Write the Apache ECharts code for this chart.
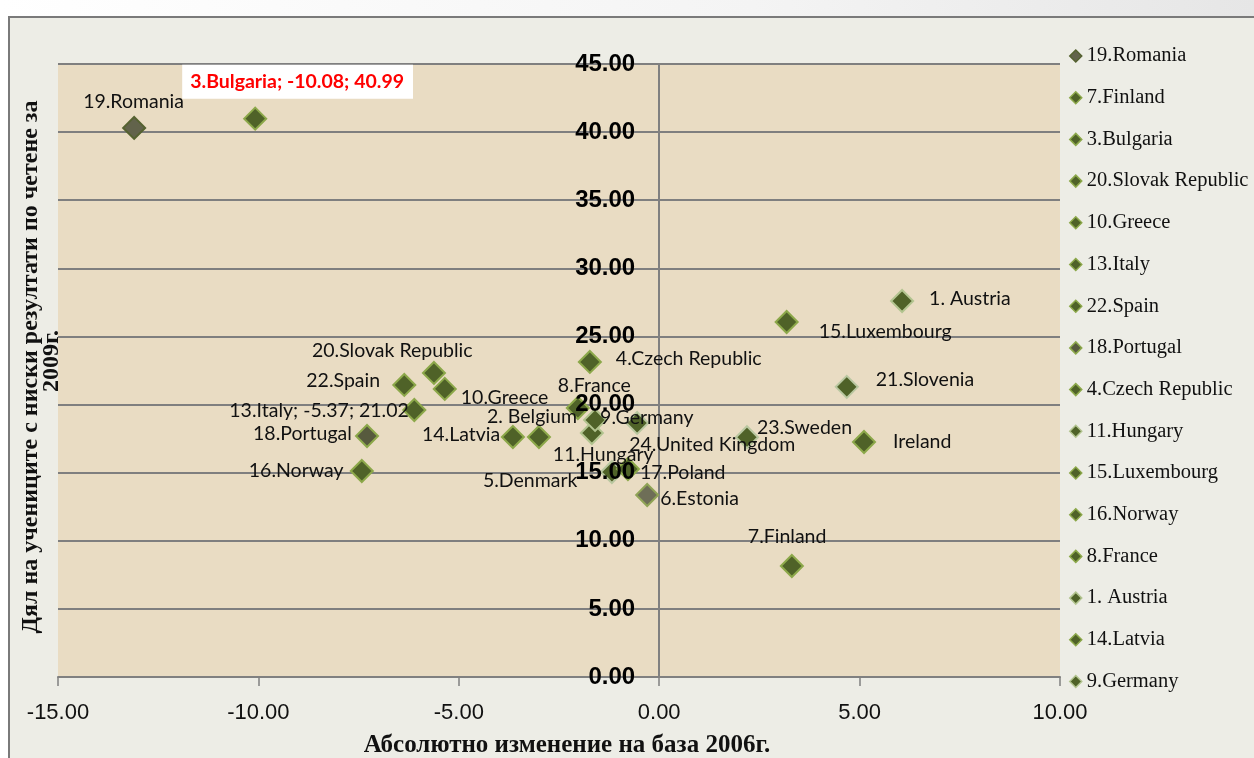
<!DOCTYPE html>
<html><head><meta charset="utf-8">
<script src="https://cdn.jsdelivr.net/npm/echarts@6/dist/echarts.min.js"></script>
<style>html,body{margin:0;padding:0;background:#fff}#c{width:1254px;height:758px}</style>
</head><body><div id="c"></div>
<script>
// ---- data ----
const countries = ['19.Romania','7.Finland','3.Bulgaria','20.Slovak Republic','10.Greece','13.Italy','22.Spain','18.Portugal','4.Czech Republic','11.Hungary','15.Luxembourg','16.Norway','8.France','1. Austria','14.Latvia','9.Germany','2. Belgium','5.Denmark','6.Estonia','17.Poland','21.Slovenia','23.Sweden','24.United Kingdom','Ireland'];
const changeSince2006 = [-13.10, 3.31, -10.08, -5.62, -5.35, -6.11, -6.36, -7.29, -1.73, -1.68, 3.18, -7.42, -2.03, 6.06, -3.65, -1.60, -3.00, -1.18, -0.30, -0.78, 4.68, 2.19, -0.55, 5.11];
const lowShare2009 = [40.31, 8.15, 40.99, 22.32, 21.15, 19.60, 21.44, 17.69, 23.13, 17.91, 26.06, 15.12, 19.75, 27.60, 17.62, 18.87, 17.62, 15.05, 13.36, 15.27, 21.30, 17.60, 18.65, 17.25];
const pointLabels = ['19.Romania','7.Finland','3.Bulgaria; -10.08; 40.99','20.Slovak Republic','10.Greece','13.Italy; -5.37; 21.02','22.Spain','18.Portugal','4.Czech Republic','11.Hungary','15.Luxembourg','16.Norway','8.France','1. Austria','14.Latvia','9.Germany','2. Belgium','5.Denmark','6.Estonia','17.Poland','21.Slovenia','23.Sweden','24.United Kingdom','Ireland'];
const legendCount = 16;
const xTickValues = [-15, -10, -5, 0, 5, 10];
const yTickValues = [0, 5, 10, 15, 20, 25, 30, 35, 40, 45];
const xTitle = 'Абсолютно изменение на база 2006г.';
const yTitle1 = 'Дял на учениците с ниски резултати по четене за';
const yTitle2 = '2009г.';

// ---- styling (label placement offsets relative to marker, marker colours) ----
const labelOffset = {
  '19.Romania':[-51,-26], '7.Finland':[-44,-29], '3.Bulgaria':[-73,-37], '20.Slovak Republic':[-122,-22],
  '10.Greece':[16,9], '13.Italy':[-185,1], '22.Spain':[-98,-4], '18.Portugal':[-114,-2],
  '4.Czech Republic':[26,-3], '11.Hungary':[-39,22], '15.Luxembourg':[32,10], '16.Norway':[-113,0],
  '8.France':[-20,-22], '1. Austria':[27,-2], '14.Latvia':[-91,-2], '9.Germany':[5,-2],
  '2. Belgium':[-52,-20], '5.Denmark':[-129,9], '6.Estonia':[13,4], '17.Poland':[12,4],
  '21.Slovenia':[29,-7], '23.Sweden':[10,-10], '24.United Kingdom':[-8,22], 'Ireland':[29,0]
};
const markerFill = {'19.Romania':'#62634B','18.Portugal':'#575A3E','6.Estonia':'#6E6E57'};
const markerBorder = {'19.Romania':'#556230','21.Slovenia':'#B9C7A0','23.Sweden':'#B9C7A0','1. Austria':'#B2C48F','9.Germany':'#B2C48F','24.United Kingdom':'#B9C7A0','5.Denmark':'#B9C7A0','11.Hungary':'#B2C48F','6.Estonia':'#8FA355'};

const GRID_LEFT = 58, GRID_RIGHT = 194;
const LABEL_FONT = 'Lato, "Open Sans", sans-serif';
const series = countries.map((name, i) => {
  const isBg = name === '3.Bulgaria';
  const off = labelOffset[name] || [14, 0];
  return {
    name: name,
    type: 'scatter',
    symbol: 'diamond',
    symbolSize: 22,
    z: 3,
    itemStyle: {
      color: markerFill[name] || '#4F6228',
      borderColor: markerBorder[name] || '#8CA84A',
      borderWidth: 2,
      opacity: 1
    },
    label: {
      show: true,
      formatter: pointLabels[i],
      position: 'inside',
      align: 'left',
      verticalAlign: 'middle',
      offset: off,
      color: isBg ? '#FF0000' : '#111',
      fontFamily: LABEL_FONT,
      fontSize: 19.5,
      fontWeight: isBg ? 'bold' : 'normal',
      backgroundColor: isBg ? '#FFFFFF' : 'transparent',
      padding: isBg ? [7, 9, 7, 8] : 0
    },
    emphasis: {disabled: true},
    data: [[changeSince2006[i], lowShare2009[i]]]
  };
});

const chart = echarts.init(document.getElementById('c'), null, {renderer: 'canvas'});
const xMin = xTickValues[0], xMax = xTickValues[xTickValues.length-1];
const yMin = yTickValues[0], yMax = yTickValues[yTickValues.length-1];
const plotW = 1254 - GRID_LEFT - GRID_RIGHT;
const yOffset = -plotW * (0 - xMin) / (xMax - xMin);
const yLabelStyle = {formatter: v => v.toFixed(2), color: '#000', fontFamily: '"Liberation Sans", sans-serif', fontWeight: 'bold', fontSize: 24, margin: 24, padding: [6, 0, 0, 0], showMinLabel: true, showMaxLabel: true, hideOverlap: false};
chart.setOption({
  animation: false,
  backgroundColor: 'transparent',
  graphic: [
    {type:'rect', z:-20, shape:{x:0,y:0,width:1254,height:17}, style:{fill:new echarts.graphic.LinearGradient(0,0,1,0,[{offset:0,color:'#ffffff'},{offset:0.6,color:'#f4f4f4'},{offset:1,color:'#e6e6e6'}])}},
    {type:'rect', z:-20, shape:{x:9,y:17,width:1260,height:760}, style:{fill:'#EDEDE6', stroke:'#7A7A7A', lineWidth:2}},
    {type:'text', z:5, x:567, y:746, style:{text:xTitle, fill:'#111', font:'bold 25px "Liberation Serif", serif', textAlign:'center', textVerticalAlign:'middle'}},
    {type:'text', z:5, x:31, y:367, rotation:Math.PI/2, style:{text:yTitle1, fill:'#111', font:'bold 24px "Liberation Serif", serif', textAlign:'center', textVerticalAlign:'middle'}},
    {type:'text', z:5, x:52, y:361, rotation:Math.PI/2, style:{text:yTitle2, fill:'#111', font:'bold 24px "Liberation Serif", serif', textAlign:'center', textVerticalAlign:'middle'}}
  ],
  legend: {
    orient: 'vertical',
    left: 1069,
    top: 45,
    padding: 0,
    itemGap: 19.7,
    itemWidth: 12,
    itemHeight: 12,
    itemStyle: {borderWidth: 1.5},
    data: countries.slice(0, legendCount).map(n => ({name: n, icon: 'diamond'})),
    textStyle: {fontFamily: '"Liberation Serif", serif', fontSize: 20.5, color: '#111', lineHeight: 22},
    selectedMode: false
  },
  grid: {left: GRID_LEFT, right: GRID_RIGHT, top: 64, bottom: 81, show: true, backgroundColor: '#E9DCC3', borderWidth: 0, containLabel: false, outerBoundsMode: 'none'},
  xAxis: {
    type: 'value', min: xMin, max: xMax, interval: 5,
    axisLine: {show: true, onZero: true, lineStyle: {color: '#808080', width: 2}},
    axisTick: {show: true, length: 9, lineStyle: {color: '#808080', width: 1.5}},
    splitLine: {show: false},
    axisLabel: {formatter: v => v.toFixed(2), color: '#111', fontFamily: '"Liberation Sans", sans-serif', fontSize: 22, margin: 25, showMinLabel: true, showMaxLabel: true, hideOverlap: false}
  },
  yAxis: [{
    type: 'value', min: yMin, max: yMax, interval: 5,
    position: 'left',
    offset: yOffset,
    axisLine: {show: true, onZero: false, lineStyle: {color: '#808080', width: 2}},
    axisTick: {show: false},
    splitLine: {show: true, lineStyle: {color: '#7F7F7F', width: 2}},
    axisLabel: {show: false}
  }, {
    type: 'value', min: yMin, max: yMax, interval: 5,
    position: 'left',
    offset: yOffset,
    z: 10,
    axisLine: {show: false, onZero: false},
    axisTick: {show: false},
    splitLine: {show: false},
    axisLabel: yLabelStyle
  }],
  series: series
});
</script></body></html>
